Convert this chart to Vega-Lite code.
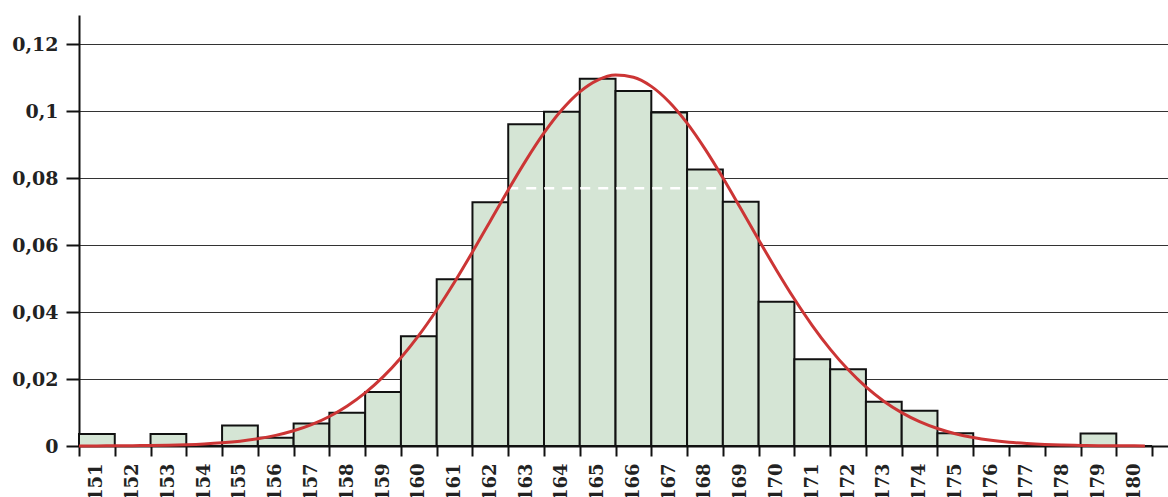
{
  "$schema": "https://vega.github.io/schema/vega-lite/v6.json",
  "autosize": "none",
  "padding": {"left": 79, "top": 15, "right": 0, "bottom": 51},
  "width": 1089,
  "height": 431,
  "background": "white",
  "config": {
    "view": {"stroke": null}
  },
  "datasets": {
    "bins": [
      {"x": 150.5, "end": 151.5, "y": 0.0036},
      {"x": 151.5, "end": 152.5, "y": 0},
      {"x": 152.5, "end": 153.5, "y": 0.0036},
      {"x": 153.5, "end": 154.5, "y": 0},
      {"x": 154.5, "end": 155.5, "y": 0.0061},
      {"x": 155.5, "end": 156.5, "y": 0.0025},
      {"x": 156.5, "end": 157.5, "y": 0.0067},
      {"x": 157.5, "end": 158.5, "y": 0.0099},
      {"x": 158.5, "end": 159.5, "y": 0.0161},
      {"x": 159.5, "end": 160.5, "y": 0.0328},
      {"x": 160.5, "end": 161.5, "y": 0.0498},
      {"x": 161.5, "end": 162.5, "y": 0.0728},
      {"x": 162.5, "end": 163.5, "y": 0.0961},
      {"x": 163.5, "end": 164.5, "y": 0.0998},
      {"x": 164.5, "end": 165.5, "y": 0.1097},
      {"x": 165.5, "end": 166.5, "y": 0.106},
      {"x": 166.5, "end": 167.5, "y": 0.0996},
      {"x": 167.5, "end": 168.5, "y": 0.0826},
      {"x": 168.5, "end": 169.5, "y": 0.0729},
      {"x": 169.5, "end": 170.5, "y": 0.0431},
      {"x": 170.5, "end": 171.5, "y": 0.0259},
      {"x": 171.5, "end": 172.5, "y": 0.0229},
      {"x": 172.5, "end": 173.5, "y": 0.0132},
      {"x": 173.5, "end": 174.5, "y": 0.0105},
      {"x": 174.5, "end": 175.5, "y": 0.0038},
      {"x": 175.5, "end": 176.5, "y": 0},
      {"x": 176.5, "end": 177.5, "y": 0},
      {"x": 177.5, "end": 178.5, "y": 0},
      {"x": 178.5, "end": 179.5, "y": 0.0037},
      {"x": 179.5, "end": 180.5, "y": 0}
    ],
    "curve": [
      {"x": 150.5, "y": 0.00002}, {"x": 151, "y": 0.00003}, {"x": 151.5, "y": 0.00005},
      {"x": 152, "y": 0.00009}, {"x": 152.5, "y": 0.00015}, {"x": 153, "y": 0.00024},
      {"x": 153.5, "y": 0.00039}, {"x": 154, "y": 0.00062}, {"x": 154.5, "y": 0.00096},
      {"x": 155, "y": 0.00145}, {"x": 155.5, "y": 0.00216}, {"x": 156, "y": 0.00317},
      {"x": 156.5, "y": 0.00454}, {"x": 157, "y": 0.00639}, {"x": 157.5, "y": 0.00882},
      {"x": 158, "y": 0.01194}, {"x": 158.5, "y": 0.01585}, {"x": 159, "y": 0.02063},
      {"x": 159.5, "y": 0.02637}, {"x": 160, "y": 0.03304}, {"x": 160.5, "y": 0.04062},
      {"x": 161, "y": 0.04897}, {"x": 161.5, "y": 0.05793}, {"x": 162, "y": 0.0672},
      {"x": 162.5, "y": 0.07647}, {"x": 163, "y": 0.08536}, {"x": 163.5, "y": 0.09347},
      {"x": 164, "y": 0.10038}, {"x": 164.5, "y": 0.10575}, {"x": 165, "y": 0.10927},
      {"x": 165.5, "y": 0.11076}, {"x": 166, "y": 0.11012}, {"x": 166.5, "y": 0.10739},
      {"x": 167, "y": 0.10273}, {"x": 167.5, "y": 0.0964}, {"x": 168, "y": 0.08872},
      {"x": 168.5, "y": 0.0801}, {"x": 169, "y": 0.07093}, {"x": 169.5, "y": 0.06162},
      {"x": 170, "y": 0.0525}, {"x": 170.5, "y": 0.04388}, {"x": 171, "y": 0.03598},
      {"x": 171.5, "y": 0.02893}, {"x": 172, "y": 0.02282}, {"x": 172.5, "y": 0.01765},
      {"x": 173, "y": 0.01339}, {"x": 173.5, "y": 0.00997}, {"x": 174, "y": 0.00728},
      {"x": 174.5, "y": 0.00522}, {"x": 175, "y": 0.00367}, {"x": 175.5, "y": 0.00253},
      {"x": 176, "y": 0.00171}, {"x": 176.5, "y": 0.00113}, {"x": 177, "y": 0.00074},
      {"x": 177.5, "y": 0.00047}, {"x": 178, "y": 0.00029}, {"x": 178.5, "y": 0.00018},
      {"x": 179, "y": 0.00011}, {"x": 179.5, "y": 0.00006}, {"x": 180, "y": 0.00004},
      {"x": 180.3, "y": 0.00003}
    ],
    "mark": [
      {"x": 162.5, "end": 168.5, "y": 0.077}
    ]
  },
  "encoding": {
    "x": {
      "field": "x", "type": "quantitative",
      "scale": {"domain": [150.5, 180.945], "nice": false, "zero": false},
      "axis": {
        "title": null,
        "values": [150.5,151.5,152.5,153.5,154.5,155.5,156.5,157.5,158.5,159.5,160.5,161.5,162.5,163.5,164.5,165.5,166.5,167.5,168.5,169.5,170.5,171.5,172.5,173.5,174.5,175.5,176.5,177.5,178.5,179.5,180.5],
        "labelExpr": "datum.value < 180 ? format(datum.value + 0.5, 'd') : ''",
        "labelOffset": 17.9,
        "labelAngle": -90,
        "labelAlign": "right",
        "labelBaseline": "middle",
        "labelPadding": 7,
        "labelFont": "DejaVu Serif",
        "labelFontSize": 18,
        "labelFontWeight": "bold",
        "labelColor": "#222222",
        "labelOverlap": false,
        "labelFlush": false,
        "labelBound": false,
        "tickSize": 10,
        "tickWidth": 2,
        "tickColor": "#111111",
        "domainColor": "#111111",
        "domainWidth": 2,
        "grid": false
      }
    },
    "y": {
      "field": "y", "type": "quantitative",
      "scale": {"domain": [0, 0.1287], "nice": false},
      "axis": {
        "title": null,
        "values": [0, 0.02, 0.04, 0.06, 0.08, 0.1, 0.12],
        "labelExpr": "replace(format(datum.value, '~g'), '.', ',')",
        "labelFont": "DejaVu Serif",
        "labelFontSize": 19,
        "labelFontWeight": "bold",
        "labelColor": "#222222",
        "labelPadding": 8,
        "labelOverlap": false,
        "tickSize": 13,
        "tickWidth": 2,
        "tickColor": "#111111",
        "domainColor": "#111111",
        "domainWidth": 2,
        "grid": true,
        "gridColor": "#333333",
        "gridWidth": 1.2
      }
    }
  },
  "layer": [
    {
      "data": {"name": "bins"},
      "mark": {"type": "rect", "fill": "#d5e5d5", "stroke": "#111111", "strokeWidth": 2},
      "encoding": {
        "x2": {"field": "end"},
        "y2": {"datum": 0}
      }
    },
    {
      "data": {"name": "mark"},
      "mark": {"type": "rule", "color": "white", "strokeWidth": 2.5, "strokeDash": [10, 8]},
      "encoding": {
        "x2": {"field": "end"}
      }
    },
    {
      "data": {"name": "curve"},
      "mark": {"type": "line", "color": "#cc3535", "strokeWidth": 3, "interpolate": "monotone"},
      "encoding": {}
    }
  ]
}
